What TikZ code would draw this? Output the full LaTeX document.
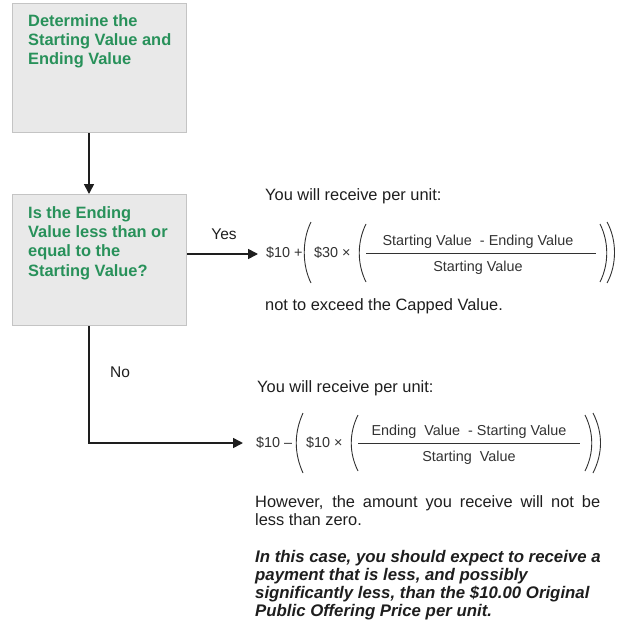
\documentclass[tikz,border=0pt]{standalone}
\usepackage{fontspec}
\setmainfont{Liberation Sans}
\usetikzlibrary{arrows.meta}
\definecolor{boxfill}{RGB}{233,233,233}
\definecolor{boxline}{RGB}{196,196,196}
\definecolor{grn}{RGB}{40,145,90}
\definecolor{ink}{RGB}{30,30,30}
\definecolor{fink}{RGB}{50,50,50}
\begin{document}
\begin{tikzpicture}[x=1pt,y=-1pt,
  flowbox/.style={draw=boxline,fill=boxfill,line width=1.2pt,inner sep=0pt,anchor=north west},
  boxtext/.style={text=grn,font=\fontsize{16.4}{19.3}\selectfont\bfseries,align=left,inner sep=0pt,anchor=base west},
  body/.style={text=ink,font=\fontsize{16.4}{18}\selectfont,inner sep=0pt,anchor=base west},
  note/.style={text=ink,font=\fontsize{16.8}{18}\selectfont\bfseries\itshape,align=left,inner sep=0pt,anchor=base west},
  ftext/.style={text=fink,font=\fontsize{14.4}{16}\selectfont,inner sep=0pt},
  lbl/.style={text=ink,font=\fontsize{15.5}{17}\selectfont,inner sep=0pt},
  arr/.style={draw=ink,line width=1.6pt,-{Triangle[length=10pt,width=10pt]}},
  paren/.style={draw=fink,line width=0.9pt},
  rule/.style={draw=fink,line width=0.9pt}]
\useasboundingbox (0,0) rectangle (619,626);

% boxes
\node[flowbox,minimum width=174pt,minimum height=129pt] (b1) at (12,3) {};
\node[flowbox,minimum width=174pt,minimum height=131pt] (b2) at (12,194) {};
\node[boxtext] (t1) at (28,65) {Determine the\\Starting Value and\\Ending Value};
\node[boxtext] (t2) at (28,276) {Is the Ending\\Value less than or\\equal to the\\Starting Value?};

% connectors
\coordinate (cx) at (89,0);
\coordinate (yesend) at (258,254);
\coordinate (noend) at (243,443);
\draw[arr] (b1.south -| cx) -- (b2.north -| cx);
\draw[arr] (b2.east |- yesend) -- (yesend);
\draw[arr] (b2.south -| cx) |- (noend);
\node[lbl] (yes) at (224,234) {Yes};
\node[lbl] (no) at (120,372) {No};

% yes branch
\node[body] (r1) at (265,200) {You will receive per unit:};
\node[ftext,anchor=west] (f1a) at (266,253) {\$10 +};
\draw[paren] (311,222) .. controls (302,240) and (302,265) .. (311,283);
\node[ftext,anchor=west] (f1b) at (314,253) {\$30 ×};
\draw[paren] (366,224) .. controls (357,242) and (357,264) .. (366,282);
\draw[rule] (366,253) -- (596,253);
\node[ftext] (f1n) at (478,242) {Starting Value\ \ - Ending Value};
\node[ftext] (f1d) at (478,268) {Starting Value};
\draw[paren] (600,224) .. controls (609,242) and (609,264) .. (600,282);
\draw[paren] (607,222) .. controls (617,240) and (617,265) .. (607,283);
\node[body] (cap) at (265,310) {not to exceed the Capped Value.};

% no branch
\node[body] (r2) at (257,392) {You will receive per unit:};
\node[ftext,anchor=west] (f2a) at (256,443) {\$10 –};
\draw[paren] (303,413) .. controls (294,433) and (294,453) .. (303,473);
\draw[paren] (358,415) .. controls (349,433) and (349,453) .. (358,471);
\node[ftext,anchor=west] (f2b) at (306,443) {\$10 ×};
\draw[rule] (358,443) -- (580,443);
\node[ftext] (f2n) at (469,432) {Ending\ \ Value\ \ - Starting Value};
\node[ftext] (f2d) at (469,458) {Starting\ \ Value};
\draw[paren] (585,415) .. controls (594,433) and (594,453) .. (585,471);
\draw[paren] (593,413) .. controls (603,433) and (603,453) .. (593,473);
\node[body] (hw1) at (255,507) {\makebox[345pt][s]{However, the amount you receive will not be}};
\node[body] (hw2) at (255,525) {less than zero.};
\node[note] (it) at (255,616) {In this case, you should expect to receive a\\payment that is less, and possibly\\significantly less, than the \$10.00 Original\\Public Offering Price per unit.};
\end{tikzpicture}
\end{document}
